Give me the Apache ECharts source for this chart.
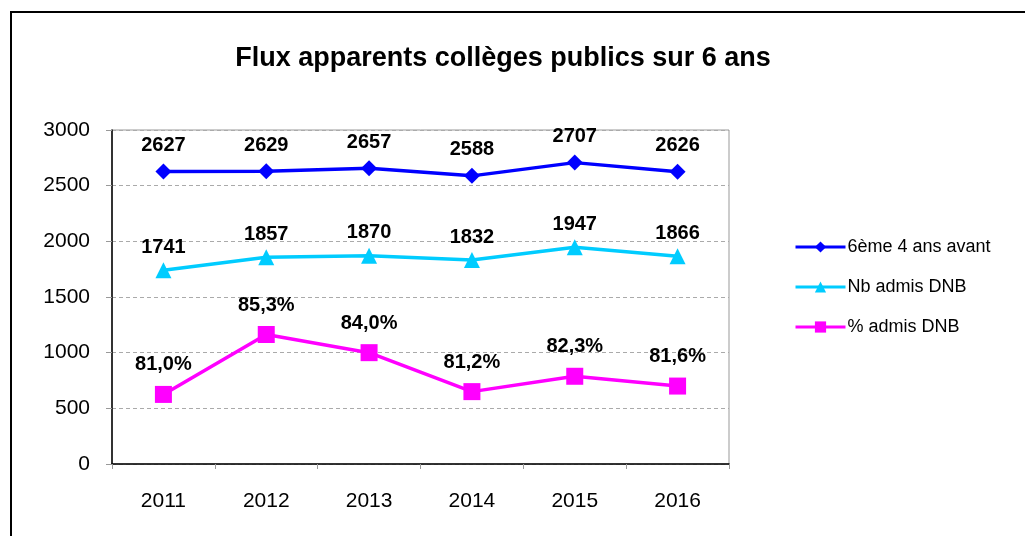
<!DOCTYPE html>
<html><head><meta charset="utf-8">
<script src="https://cdn.jsdelivr.net/npm/echarts@6/dist/echarts.min.js"></script>
<style>html,body{margin:0;padding:0;background:#fff}#c{width:1025px;height:536px}</style>
</head><body><div id="c"></div>
<script>
const categories = ['2011','2012','2013','2014','2015','2016'];
const sixieme = [2627, 2629, 2657, 2588, 2707, 2626];
const admis = [1741, 1857, 1870, 1832, 1947, 1866];
const pctLabels = ['81,0%','85,3%','84,0%','81,2%','82,3%','81,6%'];
const pctPlotted = [625, 1163, 1000, 650, 788, 700];
const yTicks = [0, 500, 1000, 1500, 2000, 2500, 3000];

const FONT = 'Arial, "Liberation Sans", sans-serif';
const chart = echarts.init(document.getElementById('c'), null, {renderer:'canvas'});
const lbl = {show:true, position:'top', fontFamily:FONT, fontWeight:'bold', fontSize:20, color:'#000'};
chart.setOption({
  animation:false,
  title:{text:'Flux apparents collèges publics sur 6 ans', left:498, textAlign:'center', top:40,
    textStyle:{fontFamily:FONT, fontWeight:'bold', fontSize:27, color:'#000'}},
  graphic:[{type:'rect', shape:{x:11, y:12, width:1100, height:700}, style:{fill:'none', stroke:'#000', lineWidth:2}}],
  grid:{left:112, top:130, width:617, height:334, show:true, borderColor:'#999', borderWidth:1},
  legend:{orient:'vertical', left:789, top:233, itemWidth:50, itemHeight:14, itemGap:22,
    lineStyle:{width:3},
    textStyle:{fontFamily:FONT, fontSize:18, color:'#000', padding:[0,0,0,-3]},
    data:['6ème 4 ans avant','Nb admis DNB','% admis DNB']},
  xAxis:{type:'category', data:categories, boundaryGap:true,
    axisLine:{lineStyle:{color:'#000', width:1.5}},
    axisTick:{show:true, length:5, lineStyle:{color:'#999'}},
    axisLabel:{margin:27, fontFamily:FONT, fontSize:21, color:'#000'}},
  yAxis:{type:'value', min:yTicks[0], max:yTicks[yTicks.length-1], interval:500,
    axisLine:{show:true, lineStyle:{color:'#000', width:1.5}},
    axisTick:{show:true, length:6, lineStyle:{color:'#999'}},
    splitLine:{lineStyle:{color:'#aaa', type:[4,3], width:1}},
    axisLabel:{margin:22, fontFamily:FONT, fontSize:21, color:'#000', formatter:v=>String(v)}},
  series:[
    {name:'6ème 4 ans avant', type:'line', data:sixieme, symbol:'diamond', symbolSize:16,
     lineStyle:{color:'#0000FF', width:3.5}, itemStyle:{color:'#0000FF'},
     label:Object.assign({}, lbl, {distance:8})},
    {name:'Nb admis DNB', type:'line', data:admis, symbol:'triangle', symbolSize:16,
     lineStyle:{color:'#00CCFF', width:3.5}, itemStyle:{color:'#00CCFF'},
     label:Object.assign({}, lbl, {distance:5})},
    {name:'% admis DNB', type:'line', data:pctPlotted, symbol:'rect', symbolSize:17,
     lineStyle:{color:'#FF00FF', width:3.5}, itemStyle:{color:'#FF00FF'},
     label:Object.assign({}, lbl, {distance:11, formatter:p=>pctLabels[p.dataIndex]})}
  ]
});
</script></body></html>
